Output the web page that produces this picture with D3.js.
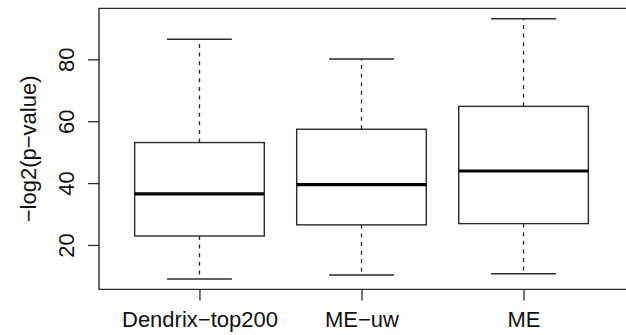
<!DOCTYPE html>
<html>
<head>
<meta charset="utf-8">
<script src="https://cdn.jsdelivr.net/npm/d3@7"></script>
<style>
html,body{margin:0;padding:0;background:#fff;}
svg{display:block;}
text{font-family:"Liberation Sans",Arial,Helvetica,sans-serif;fill:#111;}
</style>
</head>
<body>
<svg id="chart" width="626" height="335"></svg>
<script>
const categories = ["Dendrix−top200", "ME−uw", "ME"];
const whiskerLow  = [9.0, 10.3, 10.7];
const q1          = [22.9, 26.5, 26.9];
const medians     = [36.5, 39.5, 43.9];
const q3          = [53.1, 57.4, 64.8];
const whiskerHigh = [86.5, 80.1, 93.1];
const yTicks      = [20, 40, 60, 80];
const yLabel      = "−log2(p−value)";

const svg = d3.select("#chart");
const W = 626, H = 335;
const plot = {left: 99, right: 624, top: 8.4, bottom: 289.4};

const lo = d3.min(whiskerLow), hi = d3.max(whiskerHigh);
const ext = (hi - lo) * 0.04;
const y = d3.scaleLinear().domain([lo - ext, hi + ext]).range([plot.bottom, plot.top]);
const x = d3.scalePoint().domain(categories).range([plot.left, plot.right]).padding(0.62);
const step = x.step();
const boxW = step * 0.8, capW = step * 0.4;

const data = categories.map((c, i) => ({c, lo: whiskerLow[i], q1: q1[i], med: medians[i], q3: q3[i], hi: whiskerHigh[i]}));

const stroke = "#2a2a2a";
const g = svg.append("g");

// whiskers (dashed)
g.selectAll(".wl").data(data).join("line")
  .attr("x1", d => x(d.c)).attr("x2", d => x(d.c))
  .attr("y1", d => y(d.q1)).attr("y2", d => y(d.lo))
  .attr("stroke", stroke).attr("stroke-width", 1.3).attr("stroke-dasharray", "4,4.6");
g.selectAll(".wh").data(data).join("line")
  .attr("x1", d => x(d.c)).attr("x2", d => x(d.c))
  .attr("y1", d => y(d.q3)).attr("y2", d => y(d.hi))
  .attr("stroke", stroke).attr("stroke-width", 1.3).attr("stroke-dasharray", "4,4.6");
// caps
g.selectAll(".cl").data(data).join("line")
  .attr("x1", d => x(d.c) - capW/2).attr("x2", d => x(d.c) + capW/2)
  .attr("y1", d => y(d.lo)).attr("y2", d => y(d.lo))
  .attr("stroke", stroke).attr("stroke-width", 1.4);
g.selectAll(".ch").data(data).join("line")
  .attr("x1", d => x(d.c) - capW/2).attr("x2", d => x(d.c) + capW/2)
  .attr("y1", d => y(d.hi)).attr("y2", d => y(d.hi))
  .attr("stroke", stroke).attr("stroke-width", 1.4);
// boxes
g.selectAll(".box").data(data).join("rect")
  .attr("x", d => x(d.c) - boxW/2).attr("width", boxW)
  .attr("y", d => y(d.q3)).attr("height", d => y(d.q1) - y(d.q3))
  .attr("fill", "#fff").attr("stroke", stroke).attr("stroke-width", 1.4);
// medians
g.selectAll(".med").data(data).join("line")
  .attr("x1", d => x(d.c) - boxW/2).attr("x2", d => x(d.c) + boxW/2)
  .attr("y1", d => y(d.med)).attr("y2", d => y(d.med))
  .attr("stroke", "#000").attr("stroke-width", 3.2);

// frame (right edge falls outside the picture)
svg.append("path")
  .attr("d", `M${W+10},${plot.top}H${plot.left}V${plot.bottom}H${W+10}`)
  .attr("fill", "none").attr("stroke", stroke).attr("stroke-width", 1.4);

// y axis
const yAxis = d3.axisLeft(y).tickValues(yTicks).tickSize(11).tickPadding(14).tickFormat(d3.format("d"));
const ya = svg.append("g").attr("transform", `translate(${plot.left},0)`).call(yAxis);
ya.select(".domain").remove();
ya.selectAll(".tick line").attr("stroke", stroke).attr("stroke-width", 1.3);
ya.selectAll(".tick text")
  .attr("x", null).attr("dy", null)
  .attr("transform", "translate(-25,0) rotate(-90)")
  .attr("text-anchor", "middle")
  .style("font-size", "22px").attr("fill", "#111");

// x axis
const xAxis = d3.axisBottom(x).tickSize(11).tickPadding(14);
const xa = svg.append("g").attr("transform", `translate(0,${plot.bottom})`).call(xAxis);
xa.select(".domain").remove();
xa.selectAll(".tick line").attr("stroke", stroke).attr("stroke-width", 1.3);
xa.selectAll(".tick text").attr("dy", null).attr("y", 38)
  .style("font-size", "22px").attr("fill", "#111");

// y label
svg.append("text")
  .attr("transform", `translate(36,${(plot.top + plot.bottom)/2}) rotate(-90)`)
  .attr("text-anchor", "middle")
  .style("font-size", "22px")
  .text(yLabel);
</script>
</body>
</html>
